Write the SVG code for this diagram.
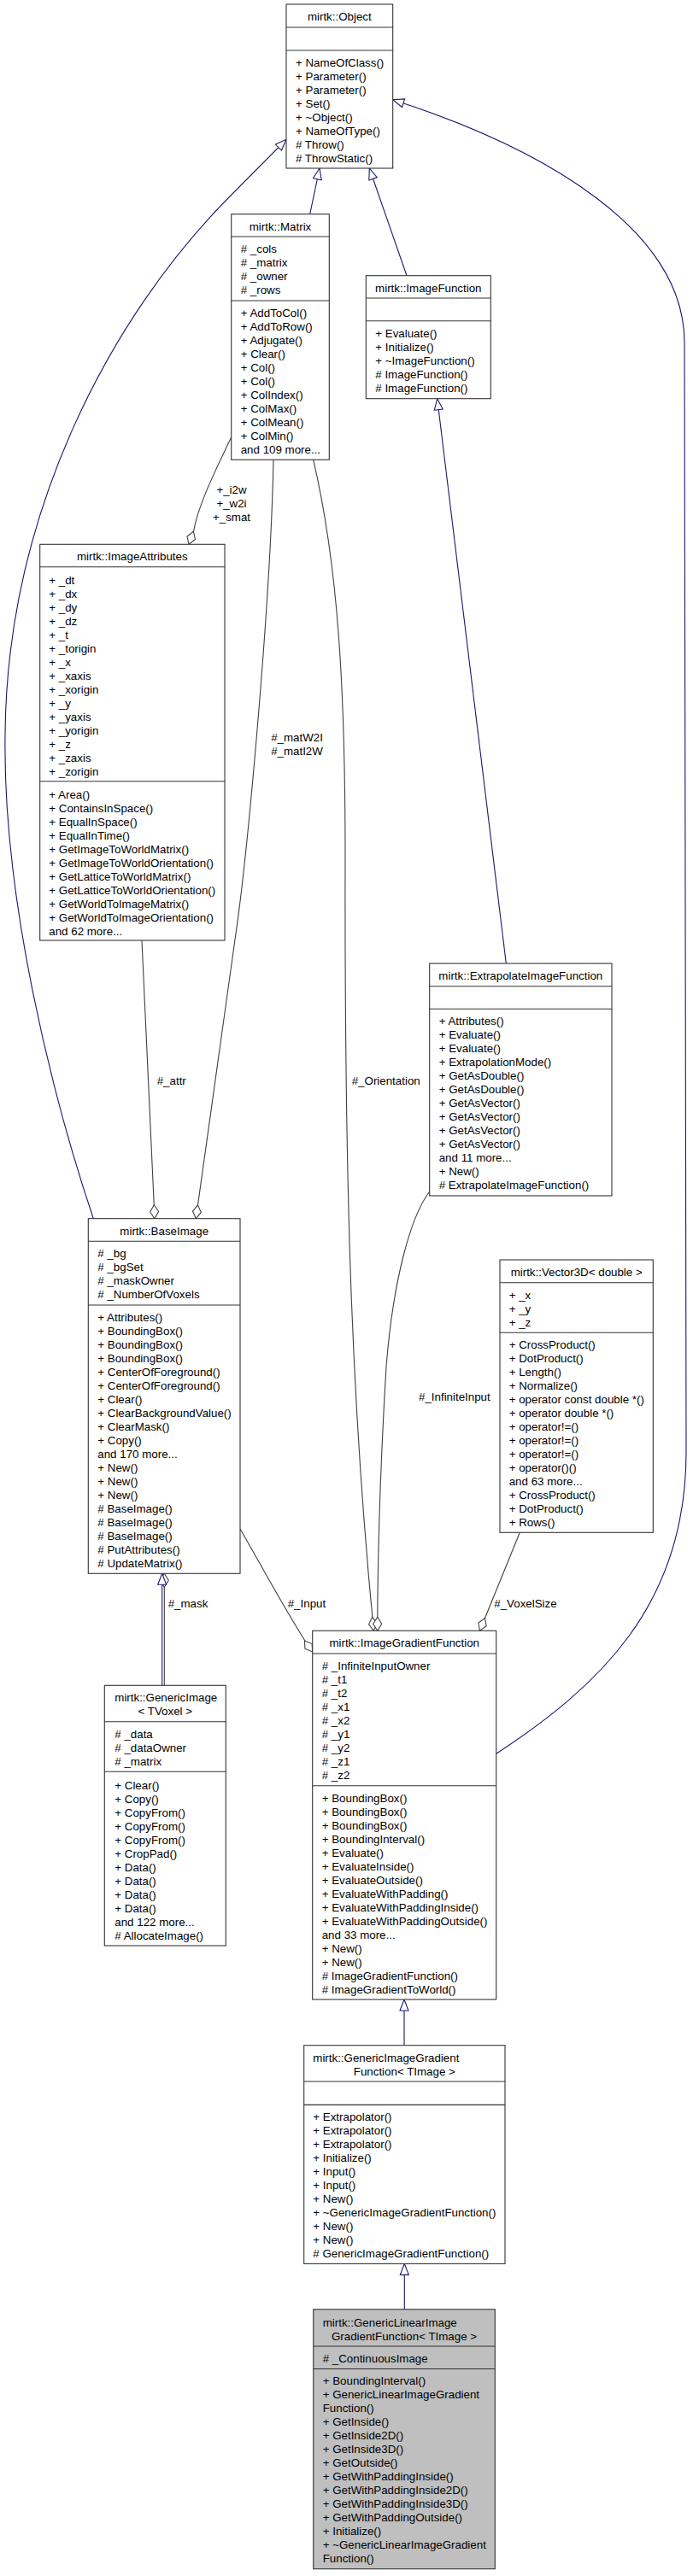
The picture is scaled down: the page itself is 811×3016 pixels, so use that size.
<svg xmlns="http://www.w3.org/2000/svg" width="811" height="3016" viewBox="0 0 811 3016">
<style>
.bx{fill:#ffffff;stroke:#333333;stroke-width:1.1}
.bxg{fill:#bfbfbf;stroke:#333333;stroke-width:1.1}
.dv{stroke:#333333;stroke-width:1.1}
text{font-family:"Liberation Sans",Arial,Helvetica,sans-serif;font-size:13.33px;fill:#000000}
.c{text-anchor:middle}
.inh{fill:none;stroke:#191970;stroke-width:1.1}
.agg{fill:none;stroke:#404040;stroke-width:1.1}
</style>
<defs>
<marker id="tri" markerUnits="userSpaceOnUse" viewBox="-1 -7 16 14" markerWidth="16" markerHeight="14" refX="13" refY="0" orient="auto" overflow="visible">
<path d="M0,-5 L13,0 L0,5 z" fill="#ffffff" stroke="#191970" stroke-width="1.1"/>
</marker>
<marker id="dia" markerUnits="userSpaceOnUse" viewBox="-1 -7 18 14" markerWidth="18" markerHeight="14" refX="16" refY="0" orient="auto" overflow="visible">
<path d="M0,0 L8,-5 L16,0 L8,5 z" fill="#ffffff" stroke="#404040" stroke-width="1.1"/>
</marker>
</defs>
<rect width="811" height="3016" fill="#ffffff"/>

<g id="connectors">
<path class="agg" d="M270.7,511.7 C255,545 232,590 226.7,621.5 L221,637.3" marker-end="url(#dia)"/>
<path class="agg" d="M320,538.3 C317,700 290,1000 275,1100 L229.3,1426.7" marker-end="url(#dia)"/>
<path class="agg" d="M366.7,538.3 C395,660 404,800 404,1000 C403,1400 412,1650 437.3,1909.3" marker-end="url(#dia)"/>
<path class="agg" d="M166,1101 L181,1426.7" marker-end="url(#dia)"/>
<path class="agg" d="M502.7,1395 C480,1425 460,1500 452,1600 C446,1700 442,1800 441.7,1909.3" marker-end="url(#dia)"/>
<path class="agg" d="M608.3,1794.3 L561.5,1909.3" marker-end="url(#dia)"/>
<path class="agg" d="M281,1790 C320,1858 345,1905 365.7,1934" marker-end="url(#dia)"/>
<path class="agg" d="M192.3,1973.3 L192.3,1842.3" marker-end="url(#dia)"/>
<path class="inh" d="M189.7,1973.3 L189.7,1842.3" marker-end="url(#tri)"/>
<path class="inh" d="M362.7,250.7 L374,197" marker-end="url(#tri)"/>
<path class="inh" d="M476,322.7 L432.3,197" marker-end="url(#tri)"/>
<path class="inh" d="M109.3,1426.7 C60,1280 3,1050 6,860 C8,600 130,370 268,231 L335,163.3" marker-end="url(#tri)"/>
<path class="inh" d="M580.7,2053.3 C700,1975 803,1880 803,1700 L801,400 C800,270 640,175 459.7,116.7" marker-end="url(#tri)"/>
<path class="inh" d="M592.3,1128 L511.7,466.7" marker-end="url(#tri)"/>
<path class="inh" d="M473,2394.7 L473,2341" marker-end="url(#tri)"/>
<path class="inh" d="M473.3,2703.8 L473.3,2650.4" marker-end="url(#tri)"/>
<text class="c" x="271" y="578">+_i2w</text>
<text class="c" x="271" y="594">+_w2i</text>
<text class="c" x="271" y="610">+_smat</text>
<text class="c" x="347.5" y="868">#_matW2I</text>
<text class="c" x="347.5" y="884">#_matI2W</text>
<text x="183.7" y="1270">#_attr</text>
<text x="411.7" y="1270">#_Orientation</text>
<text x="490" y="1640">#_InfiniteInput</text>
<text x="196.7" y="1882">#_mask</text>
<text x="336.7" y="1882">#_Input</text>
<text x="578.3" y="1882">#_VoxelSize</text>
</g>

<g id="Object">
<rect class="bx" x="335" y="5" width="124.7" height="192"/>
<line class="dv" x1="335" y1="32" x2="459.7" y2="32"/>
<line class="dv" x1="335" y1="59" x2="459.7" y2="59"/>
<text class="c" x="397.3" y="24">mirtk::Object</text>
<text x="346" y="78">+ NameOfClass()</text>
<text x="346" y="94">+ Parameter()</text>
<text x="346" y="110">+ Parameter()</text>
<text x="346" y="126">+ Set()</text>
<text x="346" y="142">+ ~Object()</text>
<text x="346" y="158">+ NameOfType()</text>
<text x="346" y="174"># Throw()</text>
<text x="346" y="190"># ThrowStatic()</text>
</g>

<g id="Matrix">
<rect class="bx" x="270.7" y="250.7" width="114.6" height="287.6"/>
<line class="dv" x1="270.7" y1="277" x2="385.3" y2="277"/>
<line class="dv" x1="270.7" y1="352" x2="385.3" y2="352"/>
<text class="c" x="328" y="270.2">mirtk::Matrix</text>
<text x="281.7" y="296.2"># _cols</text>
<text x="281.7" y="312.2"># _matrix</text>
<text x="281.7" y="328.2"># _owner</text>
<text x="281.7" y="344.2"># _rows</text>
<text x="281.7" y="371.2">+ AddToCol()</text>
<text x="281.7" y="387.2">+ AddToRow()</text>
<text x="281.7" y="403.2">+ Adjugate()</text>
<text x="281.7" y="419.2">+ Clear()</text>
<text x="281.7" y="435.2">+ Col()</text>
<text x="281.7" y="451.2">+ Col()</text>
<text x="281.7" y="467.2">+ ColIndex()</text>
<text x="281.7" y="483.2">+ ColMax()</text>
<text x="281.7" y="499.2">+ ColMean()</text>
<text x="281.7" y="515.2">+ ColMin()</text>
<text x="281.7" y="531.2">and 109 more...</text>
</g>

<g id="ImageFunction">
<rect class="bx" x="428.3" y="322.7" width="146" height="144"/>
<line class="dv" x1="428.3" y1="349" x2="574.3" y2="349"/>
<line class="dv" x1="428.3" y1="375.7" x2="574.3" y2="375.7"/>
<text class="c" x="501.3" y="342.2">mirtk::ImageFunction</text>
<text x="439.3" y="395.2">+ Evaluate()</text>
<text x="439.3" y="411.2">+ Initialize()</text>
<text x="439.3" y="427.2">+ ~ImageFunction()</text>
<text x="439.3" y="443.2"># ImageFunction()</text>
<text x="439.3" y="459.2"># ImageFunction()</text>
</g>

<g id="ImageAttributes">
<rect class="bx" x="46.7" y="637.3" width="216.3" height="463.7"/>
<line class="dv" x1="46.7" y1="663.7" x2="263" y2="663.7"/>
<line class="dv" x1="46.7" y1="914.7" x2="263" y2="914.7"/>
<text class="c" x="154.8" y="656.2">mirtk::ImageAttributes</text>
<text x="57.3" y="683.5">+ _dt</text>
<text x="57.3" y="699.5">+ _dx</text>
<text x="57.3" y="715.5">+ _dy</text>
<text x="57.3" y="731.5">+ _dz</text>
<text x="57.3" y="747.5">+ _t</text>
<text x="57.3" y="763.5">+ _torigin</text>
<text x="57.3" y="779.5">+ _x</text>
<text x="57.3" y="795.5">+ _xaxis</text>
<text x="57.3" y="811.5">+ _xorigin</text>
<text x="57.3" y="827.5">+ _y</text>
<text x="57.3" y="843.5">+ _yaxis</text>
<text x="57.3" y="859.5">+ _yorigin</text>
<text x="57.3" y="875.5">+ _z</text>
<text x="57.3" y="891.5">+ _zaxis</text>
<text x="57.3" y="907.5">+ _zorigin</text>
<text x="57.3" y="934.5">+ Area()</text>
<text x="57.3" y="950.5">+ ContainsInSpace()</text>
<text x="57.3" y="966.5">+ EqualInSpace()</text>
<text x="57.3" y="982.5">+ EqualInTime()</text>
<text x="57.3" y="998.5">+ GetImageToWorldMatrix()</text>
<text x="57.3" y="1014.5">+ GetImageToWorldOrientation()</text>
<text x="57.3" y="1030.5">+ GetLatticeToWorldMatrix()</text>
<text x="57.3" y="1046.5">+ GetLatticeToWorldOrientation()</text>
<text x="57.3" y="1062.5">+ GetWorldToImageMatrix()</text>
<text x="57.3" y="1078.5">+ GetWorldToImageOrientation()</text>
<text x="57.3" y="1094.5">and 62 more...</text>
</g>

<g id="ExtrapolateImageFunction">
<rect class="bx" x="502.7" y="1128" width="213.3" height="272"/>
<line class="dv" x1="502.7" y1="1154.7" x2="716" y2="1154.7"/>
<line class="dv" x1="502.7" y1="1181.3" x2="716" y2="1181.3"/>
<text class="c" x="609.3" y="1147.2">mirtk::ExtrapolateImageFunction</text>
<text x="513.7" y="1200.2">+ Attributes()</text>
<text x="513.7" y="1216.2">+ Evaluate()</text>
<text x="513.7" y="1232.2">+ Evaluate()</text>
<text x="513.7" y="1248.2">+ ExtrapolationMode()</text>
<text x="513.7" y="1264.2">+ GetAsDouble()</text>
<text x="513.7" y="1280.2">+ GetAsDouble()</text>
<text x="513.7" y="1296.2">+ GetAsVector()</text>
<text x="513.7" y="1312.2">+ GetAsVector()</text>
<text x="513.7" y="1328.2">+ GetAsVector()</text>
<text x="513.7" y="1344.2">+ GetAsVector()</text>
<text x="513.7" y="1360.2">and 11 more...</text>
<text x="513.7" y="1376.2">+ New()</text>
<text x="513.7" y="1392.2"># ExtrapolateImageFunction()</text>
</g>

<g id="Vector3D">
<rect class="bx" x="585" y="1475" width="179.3" height="319.3"/>
<line class="dv" x1="585" y1="1501.7" x2="764.3" y2="1501.7"/>
<line class="dv" x1="585" y1="1560.3" x2="764.3" y2="1560.3"/>
<text class="c" x="674.7" y="1493.8">mirtk::Vector3D&lt; double &gt;</text>
<text x="595.7" y="1520.5">+ _x</text>
<text x="595.7" y="1536.5">+ _y</text>
<text x="595.7" y="1552.5">+ _z</text>
<text x="595.7" y="1579.2">+ CrossProduct()</text>
<text x="595.7" y="1595.2">+ DotProduct()</text>
<text x="595.7" y="1611.2">+ Length()</text>
<text x="595.7" y="1627.2">+ Normalize()</text>
<text x="595.7" y="1643.2">+ operator const double *()</text>
<text x="595.7" y="1659.2">+ operator double *()</text>
<text x="595.7" y="1675.2">+ operator!=()</text>
<text x="595.7" y="1691.2">+ operator!=()</text>
<text x="595.7" y="1707.2">+ operator!=()</text>
<text x="595.7" y="1723.2">+ operator()()</text>
<text x="595.7" y="1739.2">and 63 more...</text>
<text x="595.7" y="1755.2">+ CrossProduct()</text>
<text x="595.7" y="1771.2">+ DotProduct()</text>
<text x="595.7" y="1787.2">+ Rows()</text>
</g>

<g id="BaseImage">
<rect class="bx" x="103.3" y="1426.7" width="177.7" height="415.6"/>
<line class="dv" x1="103.3" y1="1453.3" x2="281" y2="1453.3"/>
<line class="dv" x1="103.3" y1="1528" x2="281" y2="1528"/>
<text class="c" x="192.2" y="1446.2">mirtk::BaseImage</text>
<text x="114.3" y="1472.2"># _bg</text>
<text x="114.3" y="1488.2"># _bgSet</text>
<text x="114.3" y="1504.2"># _maskOwner</text>
<text x="114.3" y="1520.2"># _NumberOfVoxels</text>
<text x="114.3" y="1547.2">+ Attributes()</text>
<text x="114.3" y="1563.2">+ BoundingBox()</text>
<text x="114.3" y="1579.2">+ BoundingBox()</text>
<text x="114.3" y="1595.2">+ BoundingBox()</text>
<text x="114.3" y="1611.2">+ CenterOfForeground()</text>
<text x="114.3" y="1627.2">+ CenterOfForeground()</text>
<text x="114.3" y="1643.2">+ Clear()</text>
<text x="114.3" y="1659.2">+ ClearBackgroundValue()</text>
<text x="114.3" y="1675.2">+ ClearMask()</text>
<text x="114.3" y="1691.2">+ Copy()</text>
<text x="114.3" y="1707.2">and 170 more...</text>
<text x="114.3" y="1723.2">+ New()</text>
<text x="114.3" y="1739.2">+ New()</text>
<text x="114.3" y="1755.2">+ New()</text>
<text x="114.3" y="1771.2"># BaseImage()</text>
<text x="114.3" y="1787.2"># BaseImage()</text>
<text x="114.3" y="1803.2"># BaseImage()</text>
<text x="114.3" y="1819.2"># PutAttributes()</text>
<text x="114.3" y="1835.2"># UpdateMatrix()</text>
</g>

<g id="GenericImage">
<rect class="bx" x="122.3" y="1973.3" width="142" height="304.7"/>
<line class="dv" x1="122.3" y1="2015.7" x2="264.3" y2="2015.7"/>
<line class="dv" x1="122.3" y1="2074.3" x2="264.3" y2="2074.3"/>
<text x="134.3" y="1991.8">mirtk::GenericImage</text>
<text class="c" x="193.3" y="2008.2">&lt; TVoxel &gt;</text>
<text x="134.3" y="2035.2"># _data</text>
<text x="134.3" y="2051.2"># _dataOwner</text>
<text x="134.3" y="2067.2"># _matrix</text>
<text x="134.3" y="2094.5">+ Clear()</text>
<text x="134.3" y="2110.5">+ Copy()</text>
<text x="134.3" y="2126.5">+ CopyFrom()</text>
<text x="134.3" y="2142.5">+ CopyFrom()</text>
<text x="134.3" y="2158.5">+ CopyFrom()</text>
<text x="134.3" y="2174.5">+ CropPad()</text>
<text x="134.3" y="2190.5">+ Data()</text>
<text x="134.3" y="2206.5">+ Data()</text>
<text x="134.3" y="2222.5">+ Data()</text>
<text x="134.3" y="2238.5">+ Data()</text>
<text x="134.3" y="2254.5">and 122 more...</text>
<text x="134.3" y="2270.5"># AllocateImage()</text>
</g>

<g id="ImageGradientFunction">
<rect class="bx" x="365.7" y="1909.3" width="215" height="431.7"/>
<line class="dv" x1="365.7" y1="1936" x2="580.7" y2="1936"/>
<line class="dv" x1="365.7" y1="2090.7" x2="580.7" y2="2090.7"/>
<text class="c" x="473.2" y="1927.8">mirtk::ImageGradientFunction</text>
<text x="376.7" y="1954.5"># _InfiniteInputOwner</text>
<text x="376.7" y="1970.5"># _t1</text>
<text x="376.7" y="1986.5"># _t2</text>
<text x="376.7" y="2002.5"># _x1</text>
<text x="376.7" y="2018.5"># _x2</text>
<text x="376.7" y="2034.5"># _y1</text>
<text x="376.7" y="2050.5"># _y2</text>
<text x="376.7" y="2066.5"># _z1</text>
<text x="376.7" y="2082.5"># _z2</text>
<text x="376.7" y="2110.2">+ BoundingBox()</text>
<text x="376.7" y="2126.2">+ BoundingBox()</text>
<text x="376.7" y="2142.2">+ BoundingBox()</text>
<text x="376.7" y="2158.2">+ BoundingInterval()</text>
<text x="376.7" y="2174.2">+ Evaluate()</text>
<text x="376.7" y="2190.2">+ EvaluateInside()</text>
<text x="376.7" y="2206.2">+ EvaluateOutside()</text>
<text x="376.7" y="2222.2">+ EvaluateWithPadding()</text>
<text x="376.7" y="2238.2">+ EvaluateWithPaddingInside()</text>
<text x="376.7" y="2254.2">+ EvaluateWithPaddingOutside()</text>
<text x="376.7" y="2270.2">and 33 more...</text>
<text x="376.7" y="2286.2">+ New()</text>
<text x="376.7" y="2302.2">+ New()</text>
<text x="376.7" y="2318.2"># ImageGradientFunction()</text>
<text x="376.7" y="2334.2"># ImageGradientToWorld()</text>
</g>

<g id="GenericImageGradientFunction">
<rect class="bx" x="355.7" y="2394.7" width="235.3" height="255.7"/>
<line class="dv" x1="355.7" y1="2437" x2="591" y2="2437"/>
<line class="dv" x1="355.7" y1="2464.4" x2="591" y2="2464.4"/>
<text x="366.3" y="2413.8">mirtk::GenericImageGradient</text>
<text class="c" x="473.3" y="2430.2">Function&lt; TImage &gt;</text>
<text x="366.3" y="2482.7">+ Extrapolator()</text>
<text x="366.3" y="2498.7">+ Extrapolator()</text>
<text x="366.3" y="2514.7">+ Extrapolator()</text>
<text x="366.3" y="2530.7">+ Initialize()</text>
<text x="366.3" y="2546.7">+ Input()</text>
<text x="366.3" y="2562.7">+ Input()</text>
<text x="366.3" y="2578.7">+ New()</text>
<text x="366.3" y="2594.7">+ ~GenericImageGradientFunction()</text>
<text x="366.3" y="2610.7">+ New()</text>
<text x="366.3" y="2626.7">+ New()</text>
<text x="366.3" y="2642.7"># GenericImageGradientFunction()</text>
</g>

<g id="GenericLinearImageGradientFunction">
<rect class="bxg" x="366.7" y="2703.8" width="212.6" height="303.9"/>
<line class="dv" x1="366.7" y1="2747" x2="579.3" y2="2747"/>
<line class="dv" x1="366.7" y1="2773.5" x2="579.3" y2="2773.5"/>
<text x="377.7" y="2723.5">mirtk::GenericLinearImage</text>
<text class="c" x="473" y="2739.7">GradientFunction&lt; TImage &gt;</text>
<text x="377.7" y="2765.5"># _ContinuousImage</text>
<text x="377.7" y="2792">+ BoundingInterval()</text>
<text x="377.7" y="2808">+ GenericLinearImageGradient</text>
<text x="377.7" y="2824">Function()</text>
<text x="377.7" y="2840">+ GetInside()</text>
<text x="377.7" y="2856">+ GetInside2D()</text>
<text x="377.7" y="2872">+ GetInside3D()</text>
<text x="377.7" y="2888">+ GetOutside()</text>
<text x="377.7" y="2904">+ GetWithPaddingInside()</text>
<text x="377.7" y="2920">+ GetWithPaddingInside2D()</text>
<text x="377.7" y="2936">+ GetWithPaddingInside3D()</text>
<text x="377.7" y="2952">+ GetWithPaddingOutside()</text>
<text x="377.7" y="2968">+ Initialize()</text>
<text x="377.7" y="2984">+ ~GenericLinearImageGradient</text>
<text x="377.7" y="3000">Function()</text>
</g>
</svg>
